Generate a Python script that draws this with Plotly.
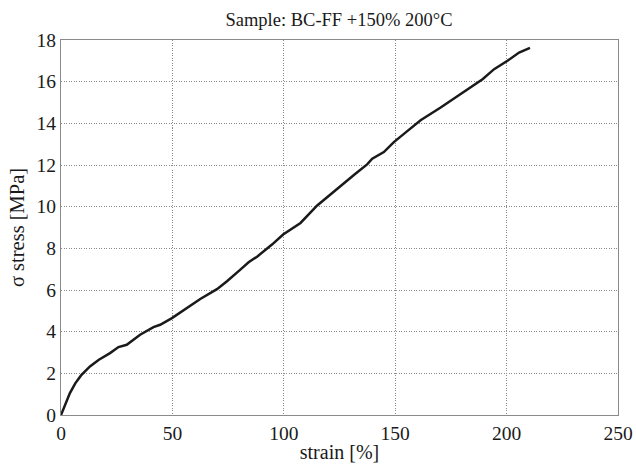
import plotly.graph_objects as go

strain = [0, 2, 4, 6.4, 9, 13, 17, 22, 25.8, 29.5, 35.5, 41.5, 44.5, 49.8, 56.5, 62.5,
          70, 74.5, 80.5, 84.2, 88, 94.7, 99.7, 103, 107.5, 115, 124.7, 132, 137.4,
          139.7, 144.9, 149.4, 155, 161.4, 170.4, 179.4, 189.2, 194.4, 200.4, 205.6, 210.5]
stress = [0, 0.55, 1.05, 1.52, 1.9, 2.33, 2.65, 2.97, 3.26, 3.37, 3.85, 4.22, 4.33, 4.65,
          5.13, 5.57, 6.04, 6.42, 6.98, 7.33, 7.6, 8.18, 8.66, 8.9, 9.22, 10.06, 10.94,
          11.57, 12.03, 12.3, 12.62, 13.1, 13.59, 14.15, 14.76, 15.4, 16.12, 16.6, 17.0,
          17.4, 17.62]

title_text = "Sample: BC-FF +150% 200°C"
x_title = "strain [%]"
y_title = "σ stress [MPa]"

font = "Liberation Serif, Times New Roman, serif"
ink = "#1a1a1a"

fig = go.Figure()
fig.add_trace(go.Scatter(x=strain, y=stress, mode="lines",
                         line=dict(color=ink, width=2.5), showlegend=False))

axis_common = dict(
    showline=True, mirror=True, linecolor="#8a8a8a", linewidth=1.2,
    showgrid=True, gridcolor="#8a8a8a", griddash="1px,1.5px", gridwidth=1,
    zeroline=False, ticks="", automargin=False,
    tickfont=dict(family=font, size=19.5, color=ink),
)

fig.update_layout(
    width=636, height=464,
    margin=dict(l=61, r=18, t=40, b=49),
    paper_bgcolor="white", plot_bgcolor="white",
    title=dict(text=title_text, x=339/636, xanchor="center", y=1-20/464, yanchor="middle",
               font=dict(family=font, size=18.5, color=ink)),
    xaxis=dict(range=[0, 250], dtick=50, tick0=0,
               title=dict(text=x_title, font=dict(family=font, size=20, color=ink), standoff=2),
               **axis_common),
    yaxis=dict(range=[0, 18], dtick=2, tick0=0,
               title=dict(text=y_title, font=dict(family=font, size=20.5, color=ink), standoff=6),
               **axis_common),
)

fig.write_html("out.html")
